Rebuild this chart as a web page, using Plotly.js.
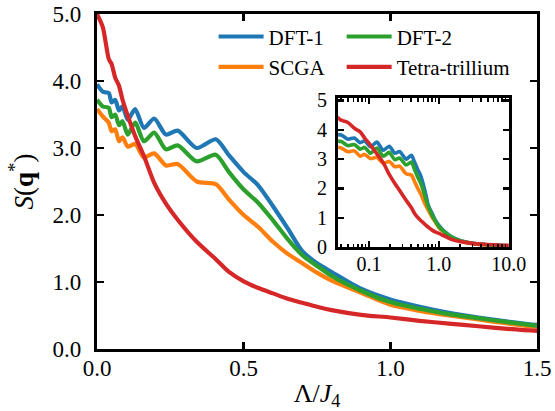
<!DOCTYPE html>
<html>
<head>
<meta charset="utf-8">
<script src="https://cdn.plot.ly/plotly-3.0.1.min.js"></script>
<style>
html,body{margin:0;padding:0;background:#fff;}
#chart{width:555px;height:411px;}
</style>
</head>
<body>
<div id="chart"></div>
<script>
// Lambda / J4 values (shared by all series)
const lam = [0, 0.02, 0.04, 0.05, 0.062, 0.075, 0.087, 0.105, 0.13, 0.16, 0.195, 0.235, 0.275, 0.34, 0.405, 0.45, 0.5, 0.55, 0.6, 0.65, 0.7, 0.75, 0.8, 0.9, 1.0, 1.1, 1.2, 1.3, 1.4, 1.5, 2, 3, 5, 7, 10];
const dft1 = [3.95, 3.84, 3.82, 3.68, 3.72, 3.56, 3.62, 3.42, 3.58, 3.3, 3.44, 3.2, 3.26, 3.0, 3.13, 2.89, 2.64, 2.44, 2.13, 1.8, 1.46, 1.28, 1.15, 0.9, 0.74, 0.63, 0.54, 0.47, 0.41, 0.36, 0.23, 0.13, 0.08, 0.06, 0.05];
const dft2 = [3.72, 3.62, 3.6, 3.46, 3.5, 3.34, 3.4, 3.2, 3.38, 3.1, 3.23, 2.98, 3.04, 2.8, 2.9, 2.64, 2.38, 2.18, 1.92, 1.64, 1.4, 1.24, 1.09, 0.87, 0.7, 0.6, 0.52, 0.46, 0.4, 0.35, 0.22, 0.13, 0.08, 0.06, 0.05];
const scga = [3.58, 3.47, 3.38, 3.25, 3.28, 3.1, 3.16, 3.02, 3.06, 2.86, 2.92, 2.74, 2.76, 2.5, 2.46, 2.23, 2.0, 1.82, 1.6, 1.42, 1.28, 1.14, 1.02, 0.84, 0.66, 0.57, 0.5, 0.44, 0.38, 0.33, 0.21, 0.12, 0.07, 0.05, 0.04];
const tetra = [5.0, 4.8, 4.33, 4.25, 4.05, 3.93, 3.72, 3.48, 3.18, 2.88, 2.48, 2.17, 1.93, 1.6, 1.34, 1.15, 1.01, 0.91, 0.83, 0.75, 0.69, 0.63, 0.58, 0.51, 0.47, 0.42, 0.38, 0.34, 0.3, 0.27, 0.19, 0.13, 0.09, 0.07, 0.06];

const names = ['DFT-1', 'SCGA', 'DFT-2', 'Tetra-trillium'];
const colors = ['#1f77b4', '#ff7f0e', '#2ca02c', '#d62728'];
const series = [dft1, scga, dft2, tetra];
const legendOf = ['legend', 'legend', 'legend2', 'legend2'];

const mainXTicks = [0, 0.5, 1.0, 1.5];
const mainYTicks = [0, 1, 2, 3, 4, 5];
const insetXTicks = [0.1, 1, 10];
const insetXText = ['0.1', '1.0', '10.0'];
const insetYTicks = [0, 1, 2, 3, 4, 5];
const insetMinor = [0.04, 0.05, 0.06, 0.07, 0.08, 0.09, 0.2, 0.3, 0.4, 0.5, 0.6, 0.7, 0.8, 0.9, 2, 3, 4, 5, 6, 7, 8, 9];

const FONT = "'Liberation Serif', 'Times New Roman', 'DejaVu Serif', serif";
const traces = [];
series.forEach((s, i) => {
  traces.push({
    x: lam, y: s, type: 'scatter', mode: 'lines', name: names[i],
    legend: legendOf[i],
    line: {color: colors[i], width: 4.2, shape: 'spline', smoothing: 0.7},
    xaxis: 'x', yaxis: 'y'
  });
});
series.forEach((s, i) => {
  traces.push({
    x: lam, y: s, type: 'scatter', mode: 'lines', name: names[i], showlegend: false,
    line: {color: colors[i], width: 3.6, shape: 'spline', smoothing: 0.7},
    xaxis: 'x2', yaxis: 'y2'
  });
});

const axCommon = {
  showline: true, linecolor: '#000', linewidth: 3.2, mirror: 'ticks',
  ticks: 'inside', tickcolor: '#000', showgrid: false, zeroline: false
};
const legCommon = {
  orientation: 'v', xanchor: 'left', yanchor: 'top', y: 0.993,
  bgcolor: 'rgba(0,0,0,0)', font: {family: FONT, size: 21, color: '#000'},
  itemwidth: 45, tracegroupgap: 0
};

const layout = {
  width: 555, height: 411,
  margin: {l: 97, r: 18, t: 14, b: 62},
  paper_bgcolor: '#fff', plot_bgcolor: 'rgba(0,0,0,0)',
  font: {family: FONT, color: '#000'},
  showlegend: true,
  legend: Object.assign({}, legCommon, {x: 0.265}),
  legend2: Object.assign({}, legCommon, {x: 0.556}),
  xaxis: Object.assign({}, axCommon, {
    domain: [0, 1], range: [0, 1.5], tickvals: mainXTicks, tickformat: '.1f',
    ticklen: 7, tickwidth: 2.5, ticklabelstandoff: -4,
    tickfont: {family: FONT, size: 23},
    title: {text: 'Λ/<i>J</i><sub>4</sub>', font: {family: FONT, size: 26}, standoff: 24}
  }),
  yaxis: Object.assign({}, axCommon, {
    domain: [0, 1], range: [0, 5], tickvals: mainYTicks, tickformat: '.1f',
    ticklen: 7, tickwidth: 2.5, ticklabelstandoff: 8,
    tickfont: {family: FONT, size: 23},
    title: {text: '<i>S</i>(<b>q</b><sup>*</sup>)', font: {family: FONT, size: 27}, standoff: 12}
  }),
  xaxis2: Object.assign({}, axCommon, {
    anchor: 'y2', type: 'log', domain: [0.548, 0.936], range: [-1.44, 1.0],
    tickvals: insetXTicks, ticktext: insetXText, ticklen: 6, tickwidth: 2.5,
    ticklabelstandoff: -3,
    minor: {tickvals: insetMinor, ticks: 'inside', ticklen: 3.5, tickwidth: 1.5, tickcolor: '#000'},
    tickfont: {family: FONT, size: 20}
  }),
  yaxis2: Object.assign({}, axCommon, {
    anchor: 'x2', domain: [0.304, 0.749], range: [0, 5.08],
    tickvals: insetYTicks, ticklen: 6, tickwidth: 2.5, ticklabelstandoff: 4,
    tickfont: {family: FONT, size: 20}
  })
};

Plotly.newPlot('chart', traces, layout, {displayModeBar: false, staticPlot: true});
</script>
</body>
</html>
